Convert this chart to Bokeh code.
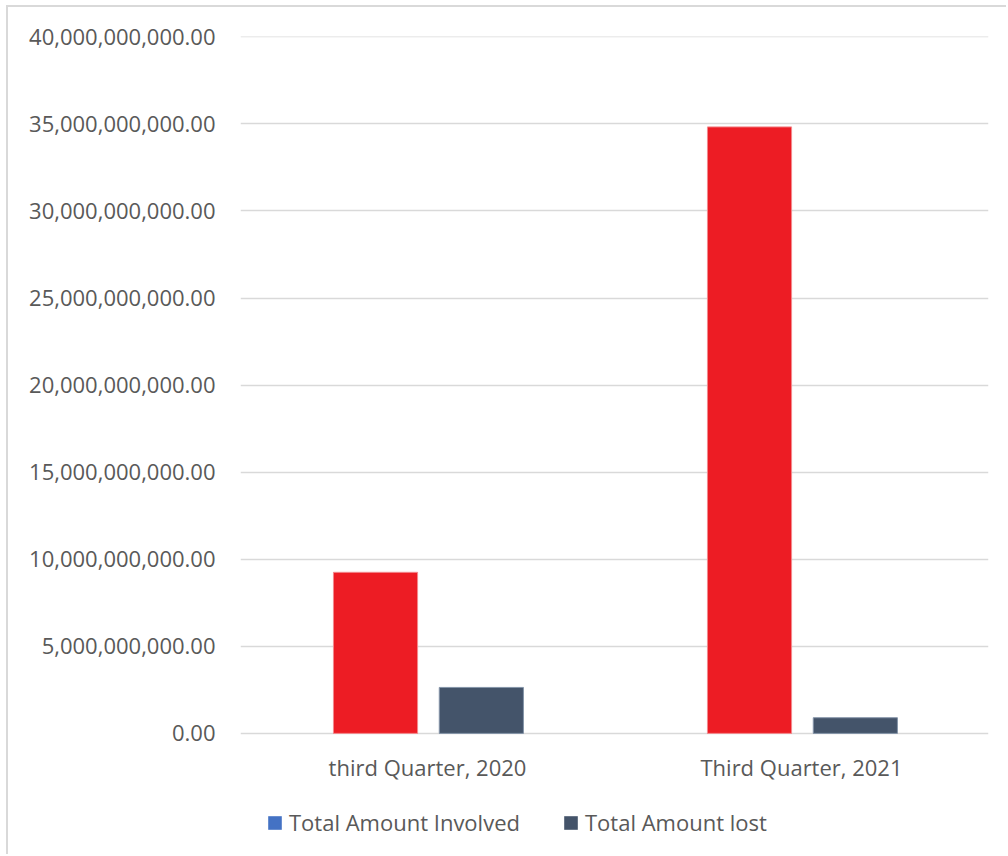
from bokeh.plotting import figure
from bokeh.models import (FactorRange, Range1d, NumeralTickFormatter, Legend, LegendItem,
                          ColumnDataSource, FixedTicker)
from bokeh.core.properties import value
from bokeh.transform import dodge
from bokeh.embed import file_html
from bokeh.resources import INLINE

categories = ["third Quarter, 2020", "Third Quarter, 2021"]
total_involved = [9.25e9, 34.83e9]
total_lost = [2.64e9, 0.9e9]
series_names = ["Total Amount Involved", "Total Amount lost"]
y_ticks = [0, 5e9, 10e9, 15e9, 20e9, 25e9, 30e9, 35e9, 40e9]

FONT = "Open Sans"
TXT = "#595959"

# frame: 696 px for 40e9 above the baseline, 123 px below it (category labels + legend)
y_top = 40.02e9
y_bottom = -40e9 * 123 / 696

p = figure(width=1000, height=849, x_range=FactorRange(*categories),
           y_range=Range1d(y_bottom, y_top), output_backend="svg", toolbar_location=None,
           min_border_left=232, min_border_right=20, min_border_top=29, min_border_bottom=0,
           styles={"border-left": "2px solid #D9D9D9", "border-top": "2px solid #D9D9D9",
                   "margin-left": "6px", "margin-top": "5px"})
p.outline_line_color = None
p.background_fill_color = "white"
p.border_fill_color = "white"

src = ColumnDataSource(dict(cat=categories, inv=total_involved, lost=total_lost,
                            lab_y=[y_bottom * 0.275] * len(categories)))
p.vbar(x=dodge("cat", -0.139, range=p.x_range), top="inv", width=0.225, source=src,
       fill_color="#ED1C24", line_color="#F28A8E", line_width=1)
p.vbar(x=dodge("cat", 0.144, range=p.x_range), top="lost", width=0.225, source=src,
       fill_color="#44546A", line_color="#8494A8", line_width=1)

# category labels under the baseline
p.text(x="cat", y="lab_y", text="cat", source=src, text_font=value(FONT),
       text_font_size="22px", text_color=TXT, text_align="center", text_baseline="middle")

# legend proxies: zero-size bars at the baseline, colours as shown in the legend
proxy = ColumnDataSource(dict(x=categories[:1], top=[0]))
r1 = p.vbar(x="x", top="top", width=0, source=proxy, fill_color="#4472C4", line_alpha=0)
r2 = p.vbar(x="x", top="top", width=0, source=proxy, fill_color="#44546A", line_alpha=0)
legend = Legend(items=[LegendItem(label=series_names[0], renderers=[r1]),
                       LegendItem(label=series_names[1], renderers=[r2])],
                orientation="horizontal", location=(26, 19),
                label_text_font=FONT, label_text_font_size="22px", label_text_color=TXT,
                glyph_width=17, glyph_height=17, label_standoff=6, spacing=42,
                border_line_color=None, background_fill_alpha=0, padding=0, margin=0)
p.add_layout(legend, "center")

p.yaxis.ticker = FixedTicker(ticks=y_ticks)
p.ygrid.ticker = FixedTicker(ticks=y_ticks)
p.yaxis.formatter = NumeralTickFormatter(format="0,0.00")
p.yaxis.major_tick_line_color = None
p.yaxis.minor_tick_line_color = None
p.yaxis.major_label_text_font = FONT
p.yaxis.major_label_text_font_size = "22px"
p.yaxis.major_label_text_color = TXT
p.yaxis.axis_line_color = None
p.yaxis.major_label_standoff = 19
p.xaxis.visible = False

p.xgrid.grid_line_color = None
p.ygrid.grid_line_color = "#D9D9D9"
p.ygrid.grid_line_width = 1.5

open("out.html", "w").write(file_html(p, INLINE))
